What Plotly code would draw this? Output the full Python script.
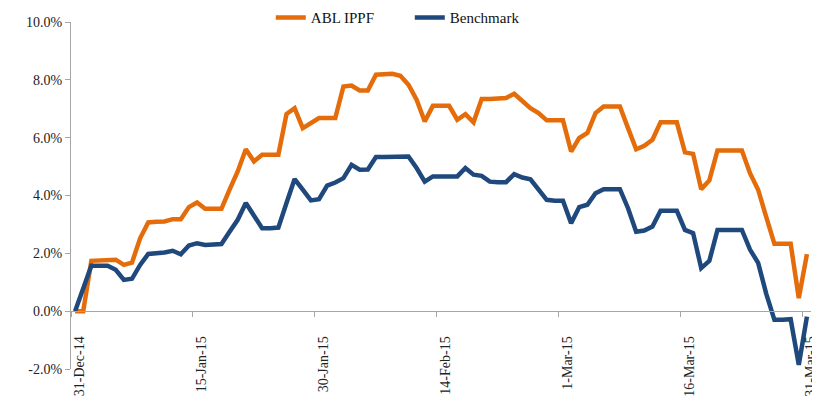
import pandas as pd
import plotly.graph_objects as go

dates = pd.date_range("2014-12-31", "2015-03-31", freq="D")

abl_ippf = [0.00, 0.00, 1.74, 1.76, 1.76, 1.78, 1.60, 1.68, 2.52, 3.07,
            3.09, 3.10, 3.18, 3.18, 3.60, 3.76, 3.54, 3.54, 3.54, 4.20,
            4.83, 5.60, 5.18, 5.41, 5.41, 5.41, 6.82, 7.02, 6.33, 6.50,
            6.68, 6.68, 6.68, 7.77, 7.80, 7.63, 7.63, 8.18, 8.21, 8.21,
            8.14, 7.83, 7.31, 6.56, 7.10, 7.10, 7.10, 6.62, 6.81, 6.53,
            7.34, 7.34, 7.34, 7.37, 7.52, 7.25, 7.02, 6.85, 6.60, 6.60,
            6.60, 5.52, 5.99, 6.16, 6.85, 7.08, 7.08, 7.08, 6.33, 5.60,
            5.72, 5.93, 6.53, 6.53, 6.53, 5.49, 5.44, 4.22, 4.52, 5.56,
            5.56, 5.56, 5.56, 4.77, 4.20, 3.25, 2.33, 2.33, 2.33, 0.45,
            1.97]

benchmark = [0.00, 0.78, 1.57, 1.57, 1.57, 1.43, 1.08, 1.12, 1.60, 1.98,
             2.00, 2.03, 2.09, 1.97, 2.27, 2.35, 2.29, 2.29, 2.32, 2.75,
             3.16, 3.74, 3.33, 2.87, 2.87, 2.89, 3.74, 4.57, 4.20, 3.83,
             3.87, 4.34, 4.45, 4.60, 5.06, 4.89, 4.90, 5.33, 5.33, 5.33,
             5.35, 5.35, 4.95, 4.48, 4.66, 4.66, 4.66, 4.66, 4.95, 4.72,
             4.68, 4.48, 4.46, 4.46, 4.74, 4.62, 4.56, 4.20, 3.85, 3.82,
             3.82, 3.04, 3.60, 3.68, 4.08, 4.22, 4.22, 4.22, 3.56, 2.75,
             2.79, 2.93, 3.47, 3.47, 3.47, 2.81, 2.70, 1.49, 1.74, 2.81,
             2.81, 2.81, 2.81, 2.13, 1.67, 0.60, -0.30, -0.30, -0.28, -1.86,
             -0.19]

x_tick_dates = ["2014-12-31", "2015-01-15", "2015-01-30", "2015-02-14",
                "2015-03-01", "2015-03-16", "2015-03-31"]
x_tick_labels = ["31-Dec-14", "15-Jan-15", "30-Jan-15", "14-Feb-15",
                 "1-Mar-15", "16-Mar-15", "31-Mar-15"]
y_ticks = [-2, 0, 2, 4, 6, 8, 10]
y_tick_labels = ["-2.0%", "0.0%", "2.0%", "4.0%", "6.0%", "8.0%", "10.0%"]

ORANGE = "#E46C0A"
BLUE = "#1F497D"
GREY = "#A6A6A6"
FONT = "Liberation Serif"

half_day = pd.Timedelta(hours=12)
x_range = [dates[0] - half_day, dates[-1] + half_day]
boundary_ticks = [pd.Timestamp(d) - half_day for d in x_tick_dates]

fig = go.Figure()
fig.add_trace(go.Scatter(x=dates, y=abl_ippf, name="ABL IPPF", mode="lines",
                         line=dict(color=ORANGE, width=4.5)))
fig.add_trace(go.Scatter(x=dates, y=benchmark, name="Benchmark", mode="lines",
                         line=dict(color=BLUE, width=4.5)))
# invisible trace for the label axis
fig.add_trace(go.Scatter(x=[dates[0]], y=[None], xaxis="x2", showlegend=False,
                         hoverinfo="skip", mode="lines"))

fig.update_layout(
    width=812, height=397,
    margin=dict(l=63, r=9, t=14, b=36, autoexpand=False),
    paper_bgcolor="white", plot_bgcolor="white",
    font=dict(family=FONT, size=14, color="#222"),
    showlegend=True,
    legend=dict(orientation="h", x=0.27, xanchor="left", y=1.012, yanchor="middle",
                font=dict(family=FONT, size=15, color="#111"),
                entrywidth=94, bgcolor="rgba(0,0,0,0)"),
    xaxis=dict(type="date", range=x_range, anchor="free", position=2/12,
               showline=True, linecolor=GREY, linewidth=1,
               ticks="outside", ticklen=5, tickcolor=GREY,
               tickvals=boundary_ticks, showticklabels=False,
               showgrid=False, zeroline=False),
    xaxis2=dict(type="date", range=x_range, overlaying="x", anchor="free",
                position=0.105, side="bottom", showline=False, ticks="",
                tickvals=x_tick_dates, ticktext=x_tick_labels, tickangle=-90,
                ticklabelshift=4, ticklabeloverflow="allow",
                showgrid=False, zeroline=False,
                tickfont=dict(family=FONT, size=14, color="#222")),
    yaxis=dict(range=[-2, 10], tickvals=y_ticks, ticktext=y_tick_labels,
               showline=True, linecolor=GREY, linewidth=1,
               ticks="outside", ticklen=5, tickcolor=GREY,
               showgrid=False, zeroline=False,
               tickfont=dict(family=FONT, size=14, color="#222")),
)

fig.write_html("out.html")
